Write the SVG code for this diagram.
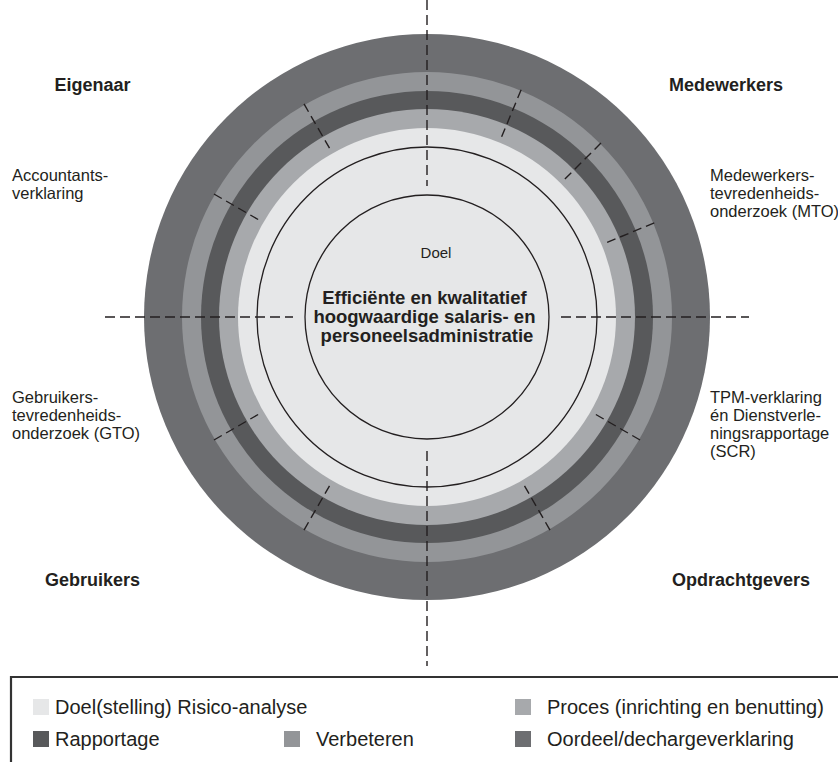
<svg xmlns="http://www.w3.org/2000/svg" width="838" height="762" viewBox="0 0 838 762">
<style>
.lbl{font-family:"Liberation Sans",Arial,sans-serif;fill:#231f20}
.b{font-weight:bold;font-size:18px}
.s{font-size:16.5px}
.lg{font-size:20px}
.dash{stroke:#231f20;stroke-width:1.4;stroke-dasharray:10 5;fill:none}
.rad{stroke:#231f20;stroke-width:1.4;stroke-dasharray:9 5;fill:none}
.thin{fill:none;stroke:#231f20;stroke-width:1.3}
</style>
<rect width="838" height="762" fill="#ffffff"/>
<g id="rings">
<circle cx="427" cy="317" r="283" fill="#6d6e71"/>
<circle cx="427" cy="317" r="245" fill="#939598"/>
<circle cx="427" cy="317" r="226" fill="#58595b"/>
<circle cx="427" cy="317" r="208" fill="#a7a9ac"/>
<circle cx="427" cy="317" r="189" fill="#e6e7e8"/>
<circle class="thin" cx="427" cy="317" r="170"/>
<circle class="thin" cx="427" cy="317" r="122"/>
</g>
<g id="connectors">
<line class="dash" x1="427" y1="0" x2="427" y2="186"/>
<line class="dash" x1="427" y1="451" x2="427" y2="666"/>
<line class="dash" x1="105" y1="317" x2="293" y2="317"/>
<line class="dash" x1="561" y1="317" x2="749" y2="317"/>
<g class="rad">
<line x1="427" y1="71" x2="427" y2="126" transform="rotate(-60 427 317)"/>
<line x1="427" y1="71" x2="427" y2="126" transform="rotate(-30 427 317)"/>
<line x1="427" y1="71" x2="427" y2="126" transform="rotate(22.5 427 317)"/>
<line x1="427" y1="71" x2="427" y2="126" transform="rotate(45 427 317)"/>
<line x1="427" y1="71" x2="427" y2="126" transform="rotate(67.5 427 317)"/>
<line x1="427" y1="71" x2="427" y2="126" transform="rotate(120 427 317)"/>
<line x1="427" y1="71" x2="427" y2="126" transform="rotate(150 427 317)"/>
<line x1="427" y1="71" x2="427" y2="126" transform="rotate(210 427 317)"/>
<line x1="427" y1="71" x2="427" y2="126" transform="rotate(240 427 317)"/>
</g>
</g>
<g id="center">
<text class="lbl" x="436" y="258" font-size="15" text-anchor="middle">Doel</text>
<text class="lbl" font-weight="bold" font-size="18.5" text-anchor="middle">
<tspan x="427" y="304">Efficiënte en kwalitatief</tspan>
<tspan x="427" y="323">hoogwaardige salaris- en</tspan>
<tspan x="427" y="342">personeelsadministratie</tspan>
</text>
</g>
<g id="eigenaar">
<text class="lbl b" x="92.5" y="91" text-anchor="middle">Eigenaar</text>
<text class="lbl s"><tspan x="12" y="181">Accountants-</tspan><tspan x="12" y="199">verklaring</tspan></text>
</g>
<g id="medewerkers">
<text class="lbl b" x="726" y="91" text-anchor="middle">Medewerkers</text>
<text class="lbl s"><tspan x="710" y="181">Medewerkers-</tspan><tspan x="710" y="199">tevredenheids-</tspan><tspan x="710" y="217">onderzoek (MTO)</tspan></text>
</g>
<g id="gebruikers">
<text class="lbl b" x="92.5" y="586" text-anchor="middle">Gebruikers</text>
<text class="lbl s"><tspan x="12" y="403">Gebruikers-</tspan><tspan x="12" y="421">tevredenheids-</tspan><tspan x="12" y="439">onderzoek (GTO)</tspan></text>
</g>
<g id="opdrachtgevers">
<text class="lbl b" x="741" y="586" text-anchor="middle">Opdrachtgevers</text>
<text class="lbl s"><tspan x="710" y="403">TPM-verklaring</tspan><tspan x="710" y="421">én Dienstverle-</tspan><tspan x="710" y="439">ningsrapportage</tspan><tspan x="710" y="457">(SCR)</tspan></text>
</g>
<g id="legend">
<path d="M11 762 V677 H838" fill="none" stroke="#333333" stroke-width="2.2"/>
<rect x="33" y="699" width="16" height="16" fill="#e6e7e8"/>
<text class="lbl lg" x="55" y="714">Doel(stelling) Risico-analyse</text>
<rect x="515" y="699" width="16" height="16" fill="#a7a9ac"/>
<text class="lbl lg" x="547" y="714">Proces (inrichting en benutting)</text>
<rect x="33" y="731" width="16" height="16" fill="#58595b"/>
<text class="lbl lg" x="55" y="746">Rapportage</text>
<rect x="284" y="731" width="16" height="16" fill="#939598"/>
<text class="lbl lg" x="316" y="746">Verbeteren</text>
<rect x="515" y="731" width="16" height="16" fill="#6d6e71"/>
<text class="lbl lg" x="547" y="746">Oordeel/dechargeverklaring</text>
</g>
</svg>
